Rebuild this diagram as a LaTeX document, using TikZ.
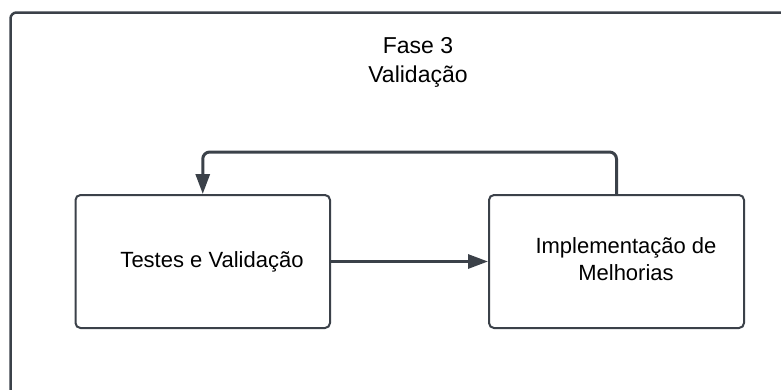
\documentclass[tikz,border=0pt]{standalone}
\usepackage{fontspec}
\setmainfont{Liberation Sans}
\usetikzlibrary{arrows.meta}
\definecolor{edge}{HTML}{3B4149}
\tikzset{
  stepbox/.style={draw=edge, line width=2pt, rounded corners=5pt, inner sep=0pt},
  flow/.style={draw=edge, line width=3pt, -{Triangle[length=20pt,width=14pt]}},
  label22/.style={font=\fontsize{22}{27}\selectfont, anchor=base, inner sep=0pt, text=black},
  label23/.style={font=\fontsize{23}{29}\selectfont, anchor=base, inner sep=0pt, text=black},
}
\begin{document}
\begin{tikzpicture}[x=1pt, y=-1pt]
  \useasboundingbox (0,0) rectangle (781,389);
  \clip (0,0) rectangle (781,389);
  % phase frame, running off the right and bottom edges
  \draw[draw=edge, line width=2.5pt, rounded corners=6pt] (10.5,420) -- (10.5,12.5) -- (820,12.5);
  % phase title
  \node[label23] (t1) at (418,53.5) {Fase 3};
  \node[label23] (t2) at (418,82.5) {Validação};
  % process boxes
  \node[stepbox, minimum width=254.5pt, minimum height=133pt] (b1) at (202.75,261.5) {};
  \node[stepbox, minimum width=255pt, minimum height=133pt] (b2) at (616.5,261.5) {};
  \node[label22] (l1) at (212,267.5) {Testes e Validação};
  \node[label22] (l2) at (626,253.5) {Implementação de};
  \node[label22] (l3) at (626,280.5) {Melhorias};
  % connectors
  \draw[flow] (b1.east) -- (b2.west);
  \draw[flow, rounded corners=7pt] (b2.north) -- ++(0,-42) -| (b1.north);
\end{tikzpicture}
\end{document}
